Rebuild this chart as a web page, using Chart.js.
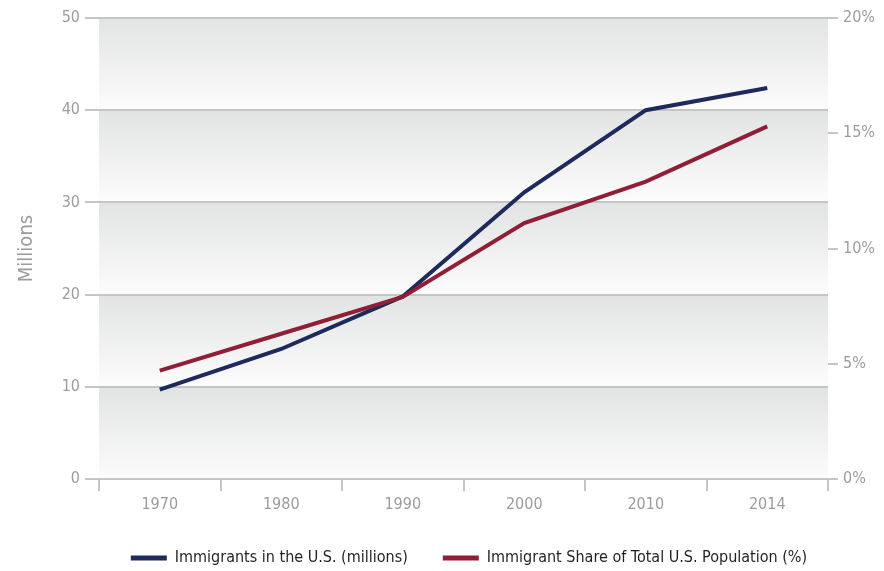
<!DOCTYPE html>
<html>
<head>
<meta charset="utf-8">
<script src="https://cdn.jsdelivr.net/npm/chart.js@4/dist/chart.umd.min.js"></script>
<style>
  html, body { margin: 0; padding: 0; background: #fff; }
  #wrap { width: 884px; height: 571px; }
</style>
</head>
<body>
<div id="wrap"><canvas id="chart" width="884" height="571"></canvas></div>
<script>
var years = ['1970', '1980', '1990', '2000', '2010', '2014'];
var immigrants = [9.7, 14.1, 19.8, 31.1, 40.0, 42.4];   // millions
var share = [4.7, 6.3, 7.9, 11.1, 12.9, 15.3];          // percent
var seriesNames = ['Immigrants in the U.S. (millions)', 'Immigrant Share of Total U.S. Population (%)'];

var navy = '#1d2a5b';
var wine = '#8f1f36';
var gridGray = '#c5c5c5';
var tickGray = '#9c9c9c';

Chart.defaults.font.family = "'Liberation Sans Narrow', 'DejaVu Sans Condensed', sans-serif";

// soft gray-to-white band between each pair of left gridlines
var bandFill = {
    id: 'bandFill',
    beforeDraw: function(chart) {
        var ctx = chart.ctx;
        var area = chart.chartArea;
        var y = chart.scales.y;
        ctx.save();
        for (var i = 0; i < y.ticks.length - 1; i++) {
            var bottom = y.getPixelForValue(y.ticks[i].value);
            var top = y.getPixelForValue(y.ticks[i + 1].value);
            var g = ctx.createLinearGradient(0, top, 0, bottom);
            g.addColorStop(0, '#e2e3e3');
            g.addColorStop(1, '#fcfcfc');
            ctx.fillStyle = g;
            ctx.fillRect(area.left, top, area.right - area.left, bottom - top);
        }
        ctx.restore();
    }
};

// legend sits a little right of page centre in the original
var legendShift = {
    id: 'legendShift',
    afterLayout: function(chart) {
        chart.legend.left += 27;
        chart.legend.right += 27;
    }
};

var config = {
    type: 'line',
    data: {
        labels: years,
        datasets: [{
            label: seriesNames[0],
            data: immigrants,
            yAxisID: 'y',
            borderColor: navy,
            backgroundColor: navy,
            borderWidth: 4,
            pointRadius: 0,
            tension: 0,
            order: 1
        }, {
            label: seriesNames[1],
            data: share,
            yAxisID: 'y2',
            borderColor: wine,
            backgroundColor: wine,
            borderWidth: 4,
            pointRadius: 0,
            tension: 0,
            order: 0
        }]
    },
    options: {
        responsive: false,
        animation: false,
        devicePixelRatio: 1,
        layout: { padding: { top: 18, left: 0, right: 0, bottom: 0 } },
        plugins: {
            tooltip: { enabled: false },
            legend: {
                position: 'bottom',
                labels: {
                    boxWidth: 36,
                    boxHeight: 5,
                    padding: 35,
                    color: '#231f20',
                    font: { size: 16 },
                    sort: function(a, b) { return a.datasetIndex - b.datasetIndex; },
                    generateLabels: function(chart) {
                        return Chart.defaults.plugins.legend.labels.generateLabels(chart).map(function(l) {
                            l.lineWidth = 0;
                            return l;
                        });
                    }
                }
            }
        },
        scales: {
            x: {
                offset: true,
                afterFit: function(s) { s.height = 36; },
                grid: { offset: true, drawOnChartArea: false, color: gridGray, lineWidth: 2, tickLength: 12 },
                border: { display: true, color: gridGray, width: 2 },
                ticks: { color: tickGray, font: { size: 16 }, padding: 4 }
            },
            y: {
                position: 'left',
                min: 0,
                max: 50,
                afterFit: function(s) { s.width = 99; },
                ticks: { stepSize: 10, color: tickGray, font: { size: 16 }, padding: 5 },
                grid: { color: gridGray, lineWidth: 2, tickLength: 14 },
                border: { display: false },
                title: {
                    display: true,
                    text: 'Millions',
                    color: tickGray,
                    font: { size: 20 },
                    padding: { top: 15, bottom: 0 }
                }
            },
            y2: {
                position: 'right',
                min: 0,
                max: 20,
                afterFit: function(s) { s.width = 56; },
                ticks: {
                    stepSize: 5,
                    color: tickGray,
                    font: { size: 16 },
                    padding: 5,
                    callback: function(v) { return v + '%'; }
                },
                grid: { drawOnChartArea: false, color: gridGray, lineWidth: 2, tickLength: 10 },
                border: { display: false }
            }
        }
    },
    plugins: [bandFill, legendShift]
};

var ctx = document.getElementById('chart');
window.myChart = new Chart(ctx, config);

// the wide gap between legend items makes the legend box too tall; trim it
var legendFit = myChart.legend.fit;
myChart.legend.fit = function() {
    legendFit.call(this);
    this.height = 56;
};
myChart.update();
</script>
</body>
</html>
